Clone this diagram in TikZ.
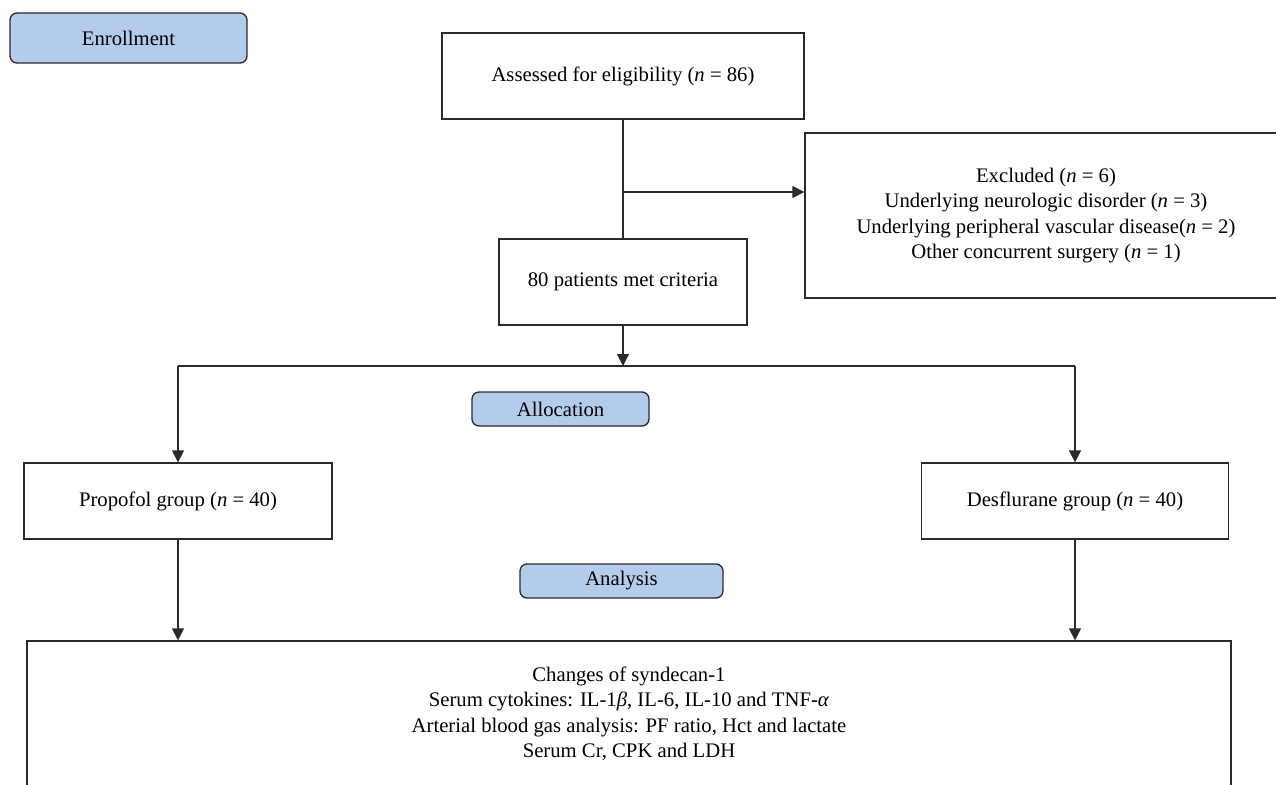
\documentclass[tikz,border=0pt]{standalone}
\usepackage{fontspec}
\setmainfont{Liberation Serif}
\usetikzlibrary{arrows.meta}
\definecolor{phase}{HTML}{B4CCEC}
\definecolor{ink}{HTML}{2A2A2A}
\tikzset{
  base/.style={draw=ink, line width=1.3pt, align=center, inner sep=0pt, font=\fontsize{20.7}{25.5}\selectfont, text=black},
  box/.style={base, rectangle},
  phasebox/.style={base, rectangle, rounded corners=7pt, fill=phase},
  conn/.style={draw=ink, line width=1.3pt},
  arr/.style={conn, -{Triangle[length=12pt,width=12pt]}},
}
\begin{document}
\begin{tikzpicture}[x=1pt,y=-1pt]
\useasboundingbox (0,0) rectangle (1276,784);
\clip (0,0) rectangle (1276,784);
\fill[white] (0,0) rectangle (1276,784);
\node[phasebox, minimum width=237pt, minimum height=50pt] (enroll) at (128.5,38) {Enrollment};
\node[box, minimum width=362pt, minimum height=86pt] (assess) at (623,76) {Assessed for eligibility (\textit{n} = 86)};
\node[box, minimum width=482pt, minimum height=165pt] (excl) at (1046,215.5) {Excluded (\textit{n} = 6)\\Underlying neurologic disorder (\textit{n} = 3)\\Underlying peripheral vascular disease(\textit{n} = 2)\\Other concurrent surgery (\textit{n} = 1)};
\node[box, minimum width=248pt, minimum height=86pt] (met) at (623,282) {80 patients met criteria};
\node[phasebox, minimum width=177pt, minimum height=34pt] (alloc) at (560.5,409) {Allocation};
\node[box, minimum width=308pt, minimum height=76pt] (prop) at (178,501) {Propofol group (\textit{n} = 40)};
\node[box, minimum width=307pt, minimum height=76pt] (desf) at (1075,501) {Desflurane group (\textit{n} = 40)};
\node[phasebox, minimum width=203pt, minimum height=34pt] (anal) at (621.5,581) {Analysis};
\node[box, minimum width=1204pt, minimum height=146pt] (outc) at (629,714) {Changes of syndecan-1\\Serum cytokines: IL-1\textit{β}, IL-6, IL-10 and TNF-\textit{α}\\Arterial blood gas analysis: PF ratio, Hct and lactate\\Serum Cr, CPK and LDH};
\coordinate (br) at (623,192);
\coordinate (j) at (623,366);
\draw[conn] (assess.south) -- (met.north);
\draw[arr] (br) -- (excl.west |- br);
\draw[arr] (met.south) -- (j);
\draw[conn] (prop.north |- j) -- (desf.north |- j);
\draw[arr] (prop.north |- j) -- (prop.north);
\draw[arr] (desf.north |- j) -- (desf.north);
\draw[arr] (prop.south) -- (prop.south |- outc.north);
\draw[arr] (desf.south) -- (desf.south |- outc.north);
\end{tikzpicture}
\end{document}
